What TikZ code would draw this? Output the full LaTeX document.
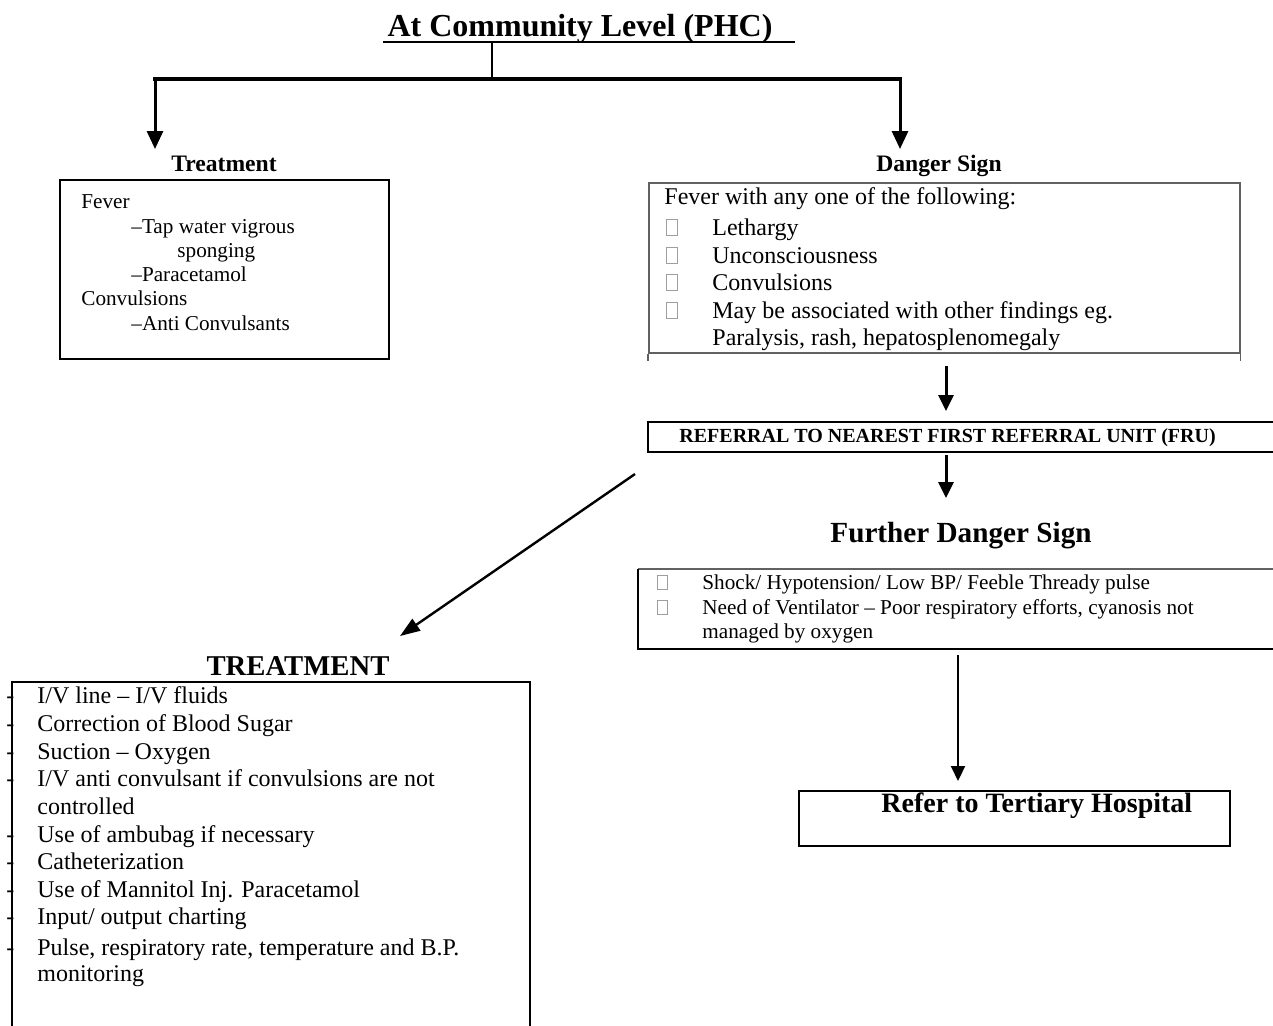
\documentclass[tikz,border=0pt]{standalone}
\usepackage{fontspec}
\setmainfont{Liberation Serif}
\usetikzlibrary{arrows.meta}
\definecolor{tofugray}{gray}{0.62}
\definecolor{rulegray}{gray}{0.38}
% empty placeholder box standing in for a missing bullet glyph
\newcommand\tofu{\textcolor{tofugray}{\fboxsep=0pt\fboxrule=0.4pt\fbox{\rule{0pt}{0.62em}\hspace{0.42em}}}}
\begin{document}
\begin{tikzpicture}[x=0.5pt,y=-0.5pt,
  txt/.style={inner sep=0pt, anchor=base west, font=\fontsize{#1}{#1}\selectfont},
  head/.style={inner sep=0pt, anchor=base, font=\bfseries\fontsize{#1}{#1}\selectfont},
  boxnode/.style={inner sep=0pt, anchor=north west, line width=1pt},
  bigtip/.style={-{Triangle[length=9pt,width=8pt]}, line width=1.5pt},
  midtip/.style={-{Triangle[length=8pt,width=7.5pt]}, line width=1.5pt},
  thintip/.style={-{Triangle[length=7.5pt,width=7pt]}, line width=1pt},
  diagtip/.style={-{Triangle[length=10pt,width=7pt]}, line width=1.2pt}]
\useasboundingbox (0,0) rectangle (1273,1025);

% ---------- title and top branching ----------
\node[head=16] (title) at (580,36) {At Community Level (PHC)};
\coordinate (ulL) at (383,42);
\coordinate (ulR) at (795,42);
\draw[line width=1pt] (ulL) -- (ulR);

\coordinate (stemtop) at (492,42);
\coordinate (stembot) at (492,79);
\coordinate (barL) at (153,79);
\coordinate (barR) at (902,79);
\coordinate (downL) at (155,79);
\coordinate (downR) at (900,79);
\coordinate (tipL) at (155,149);
\coordinate (tipR) at (900,149);
\draw[line width=1pt] (stemtop) -- (stembot);
\draw[line width=2pt] (barL) -- (barR);
\draw[bigtip] (downL) -- (tipL);
\draw[bigtip] (downR) -- (tipR);

% ---------- first-level treatment ----------
\node[head=11.8] (treathead) at (224,171) {Treatment};
\node[boxnode, draw, minimum width=329*0.5pt, minimum height=179*0.5pt] (treatbox) at (59,179) {};
\node[txt=10.6] (tf1) at (81,208) {Fever};
\node[txt=10.6] (tf2) at (131,233) {–Tap water vigrous};
\node[txt=10.6] (tf3) at (177,257) {sponging};
\node[txt=10.6] (tf4) at (131,281) {–Paracetamol};
\node[txt=10.6] (tf5) at (81,305) {Convulsions};
\node[txt=10.6] (tf6) at (131,330) {–Anti Convulsants};

% ---------- danger signs ----------
\node[head=11.8] (dangerhead) at (939,171) {Danger Sign};
\node[boxnode, draw=rulegray, line width=0.75pt, minimum width=591*0.5pt, minimum height=170*0.5pt] (dangerbox) at (648,182) {};
\draw[rulegray, line width=0.75pt] (dangerbox.south west) -- ++(0,7);
\draw[rulegray, line width=0.75pt] (dangerbox.south east) -- ++(0,7);
\node[txt=12] (d0) at (664,204) {Fever with any one of the following:};
\node[txt=12] (b1) at (666,235) {\tofu};
\node[txt=12] (b2) at (666,263) {\tofu};
\node[txt=12] (b3) at (666,290) {\tofu};
\node[txt=12] (b4) at (666,318) {\tofu};
\node[txt=12] (d1) at (712,235) {Lethargy};
\node[txt=12] (d2) at (712,263) {Unconsciousness};
\node[txt=12] (d3) at (712,290) {Convulsions};
\node[txt=12] (d4) at (712,318) {May be associated with other findings eg.};
\node[txt=12] (d5) at (712,345) {Paralysis, rash, hepatosplenomegaly};

% ---------- referral to FRU ----------
\coordinate (a1s) at (946,366);
\coordinate (a1e) at (946,411);
\draw[midtip] (a1s) -- (a1e);
\node[boxnode, minimum width=640*0.5pt, minimum height=28*0.5pt] (frubox) at (648,422) {};
\draw[line width=0.75pt] (frubox.north east) -- (frubox.north west) -- (frubox.south west) -- (frubox.south east);
\node[inner sep=0pt, anchor=base west, font=\bfseries\fontsize{10}{10}\selectfont] (frutext) at (679,442) {REFERRAL TO NEAREST FIRST REFERRAL UNIT (FRU)};

\coordinate (a2s) at (946,455);
\coordinate (a2e) at (946,498);
\draw[midtip] (a2s) -- (a2e);

% ---------- further danger signs ----------
\node[head=14.6] (furtherhead) at (961,542) {Further Danger Sign};
\node[boxnode, minimum width=650*0.5pt, minimum height=78*0.5pt] (furtherbox) at (638,569) {};
\draw[rulegray, line width=0.75pt] (furtherbox.north west) -- (furtherbox.north east);
\draw[line width=0.75pt] (furtherbox.north west) -- (furtherbox.south west) -- (furtherbox.south east);
\node[txt=10.6] (fb1) at (657,589) {\tofu};
\node[txt=10.6] (fb2) at (657,614) {\tofu};
\node[txt=10.6] (f1) at (702,589) {Shock/ Hypotension/ Low BP/ Feeble Thready pulse};
\node[txt=10.6] (f2) at (702,614) {Need of Ventilator – Poor respiratory efforts, cyanosis not};
\node[txt=10.6] (f3) at (702,638) {managed by oxygen};

% ---------- tertiary referral ----------
\coordinate (a3s) at (958,655);
\coordinate (a3e) at (958,781);
\draw[thintip] (a3s) -- (a3e);
\node[boxnode, draw, minimum width=431*0.5pt, minimum height=55*0.5pt] (tertbox) at (798,790) {};
\node[inner sep=0pt, anchor=base west, font=\bfseries\fontsize{14}{14}\selectfont] (terttext) at (881,812) {Refer to Tertiary Hospital};

% ---------- treatment at FRU ----------
\coordinate (a4s) at (635,474);
\coordinate (a4e) at (400,636);
\draw[diagtip] (a4s) -- (a4e);
\node[head=14.35] (treathead2) at (298,675) {TREATMENT};
\node[boxnode, minimum width=516*0.5pt, minimum height=360*0.5pt] (fruTreat) at (12,682) {};
\draw[line width=1pt] (fruTreat.south west) -- (fruTreat.north west) -- (fruTreat.north east) -- (fruTreat.south east);
\foreach \y [count=\i] in {703,731,759,786,842,869,897,924,955}
  \node[txt=12] (dash\i) at (6,\y) {-};
\node[txt=12] (r1) at (37,703) {I/V line – I/V fluids};
\node[txt=12] (r2) at (37,731) {Correction of Blood Sugar};
\node[txt=12] (r3) at (37,759) {Suction – Oxygen};
\node[txt=12] (r4) at (37,786) {I/V anti convulsant if convulsions are not};
\node[txt=12] (r5) at (37,814) {controlled};
\node[txt=12] (r6) at (37,842) {Use of ambubag if necessary};
\node[txt=12] (r7) at (37,869) {Catheterization};
\node[txt=12] (r8) at (37,897) {Use of Mannitol Inj. Paracetamol};
\node[txt=12] (r9) at (37,924) {Input/ output charting};
\node[txt=12] (r10) at (37,955) {Pulse, respiratory rate, temperature and B.P.};
\node[txt=12] (r11) at (37,981) {monitoring};
\end{tikzpicture}
\end{document}
